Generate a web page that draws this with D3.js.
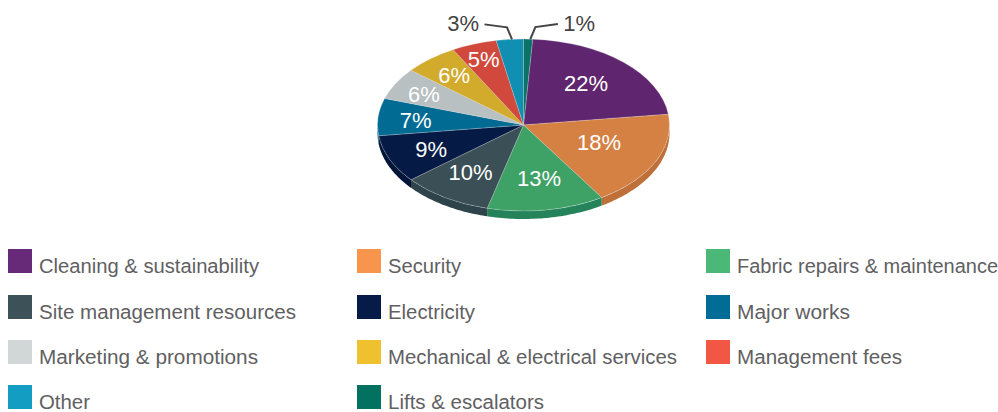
<!DOCTYPE html>
<html><head><meta charset="utf-8">
<script src="https://cdn.jsdelivr.net/npm/d3@7/dist/d3.min.js"></script>
<style>html,body{margin:0;padding:0;background:#fff}svg{display:block}
text{font-family:"Liberation Sans",Arial,sans-serif}</style></head>
<body><svg id="c" width="998" height="412"></svg>
<script>
const categories=["Cleaning & sustainability","Security","Fabric repairs & maintenance","Site management resources","Electricity","Major works","Marketing & promotions","Mechanical & electrical services","Management fees","Other","Lifts & escalators"];
const values=[22,18,13,10,9,7,6,6,5,3,1];
const legendColors=["#662a78","#f8954d","#4cb878","#3c5158","#061b47","#016d96","#d0d7d6","#f0c12e","#f25746","#149dc2","#03715f"];
const topColors=["#5f266f","#d58144","#3ea266","#3a5056","#051a45","#016b94","#b8c0c1","#d2aa2c","#d1493c","#108fb3","#0a7267"];
const sideColors=["#4d1f5a","#bf6f38","#24835a","#2e444a","#04153a","#015a7c","#98a0a1","#ab8a22","#aa3b30","#0c7693","#085c53"];

const cx=523.5,cy=125,rx=146,ry=86,depth=8;
const svg=d3.select("#c");
const startAngle=3.6*Math.PI/180;
const pie=d3.pie().sort(null).startAngle(startAngle).endAngle(startAngle+2*Math.PI);
const arcs=pie(values);
const ex=a=>cx+rx*Math.sin(a), ey=a=>cy-ry*Math.cos(a);

// side wall
const sideG=svg.append("g");
arcs.forEach((d,i)=>{
  const a0=Math.max(d.startAngle,Math.PI/2),a1=Math.min(d.endAngle,3*Math.PI/2);
  if(a1<=a0)return;
  const ang=d3.range(0,41).map(k=>a0+(a1-a0)*k/40);
  const area=d3.area().x(a=>ex(a)).y0(a=>ey(a)).y1(a=>ey(a)+depth);
  sideG.append("path").attr("d",area(ang)).attr("fill",sideColors[i]);
});

// top face
const arc=d3.arc().innerRadius(0).outerRadius(rx);
const topG=svg.append("g").attr("transform",`translate(${cx},${cy}) scale(1,${ry/rx})`);
topG.selectAll("path").data(arcs).join("path").attr("d",arc)
  .attr("fill",(d,i)=>topColors[i])
  .attr("stroke","#e8e8e8").attr("stroke-opacity",0.45).attr("stroke-width",0.7);

// labels
const labelRadius=[.64,.56,.64,.665,.70,.745,.77,.74,.805];
const labelDx=[-1.5,1.5,1,-1,1.5,0.5,-1,-0.5,0];
const labelDy=[-2,-3.5,-1.4,-1,0,1,0.5,-0.5,-1];
const fmt=v=>v+"%";
arcs.forEach((d,i)=>{
  if(i>=9)return;
  const m=(d.startAngle+d.endAngle)/2,r=labelRadius[i];
  svg.append("text").attr("x",cx+rx*r*Math.sin(m)+labelDx[i]).attr("y",cy-ry*r*Math.cos(m)+8+labelDy[i])
    .attr("text-anchor","middle").attr("fill","#fff").attr("font-size",22).text(fmt(d.value));
});

// leaders
const line=d3.line();
[[9,-1],[10,1]].forEach(([i,s])=>{
  const d=arcs[i],m=(d.startAngle+d.endAngle)/2;
  const px=ex(m)+2.25,py=ey(m);
  svg.append("path").attr("fill","none").attr("stroke","#444").attr("stroke-width",2)
    .attr("d",line([[px,py],[px+s*5,py-12],[px+s*27.5,py-15]]));
  svg.append("text").attr("x",px+s*33).attr("y",py-8).attr("text-anchor",s<0?"end":"start")
    .attr("fill","#444").attr("font-size",22).text(fmt(d.value));
});

// legend
const colX=[8,357,706],rowY=[249,295,340,385];
const legendTextWidths=[220,73,261,257,87,113,219,289,165,51,156];
const lg=svg.append("g");
categories.forEach((c,i)=>{
  const x=colX[i%3],y=rowY[Math.floor(i/3)];
  lg.append("rect").attr("x",x).attr("y",y).attr("width",24).attr("height",24).attr("fill",legendColors[i]);
  lg.append("text").attr("x",x+31).attr("y",y+23.5).attr("fill","#5f6062").attr("font-size",20)
    .attr("textLength",legendTextWidths[i]).attr("lengthAdjust","spacingAndGlyphs").text(c);
});
</script></body></html>
